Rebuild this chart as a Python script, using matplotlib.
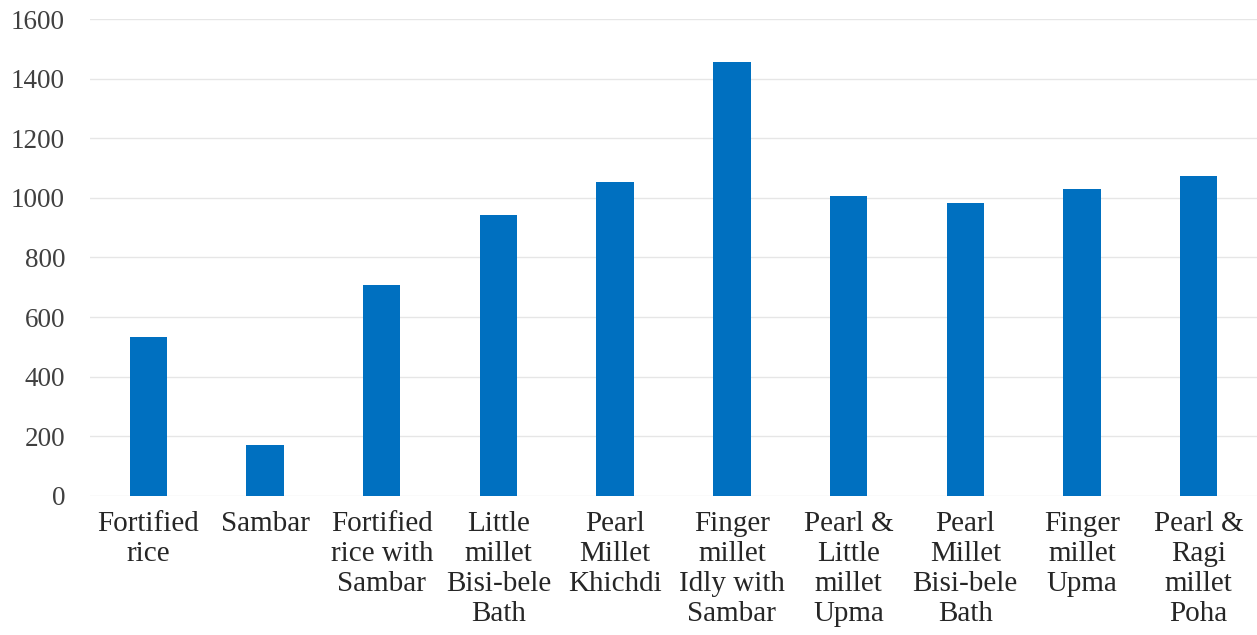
import numpy as np
import matplotlib
matplotlib.use('Agg')
import matplotlib.pyplot as plt

categories = ['Fortified\nrice', 'Sambar', 'Fortified\nrice with\nSambar',
              'Little\nmillet\nBisi-bele\nBath', 'Pearl\nMillet\nKhichdi',
              'Finger\nmillet\nIdly with\nSambar', 'Pearl &\nLittle\nmillet\nUpma',
              'Pearl\nMillet\nBisi-bele\nBath', 'Finger\nmillet\nUpma',
              'Pearl &\nRagi\nmillet\nPoha']
values = [533, 171, 707, 942, 1053, 1456, 1006, 982, 1031, 1074]
yticks = [0, 200, 400, 600, 800, 1000, 1200, 1400, 1600]

plt.rcParams['font.family'] = ['Liberation Serif', 'DejaVu Serif']

fig = plt.figure(figsize=(12.57, 6.35), dpi=100)
ax = fig.add_axes([0.0716, 0.219, 0.9284, 0.751])

x = np.arange(len(categories))
ax.bar(x, values, width=0.32, color='#0070C0', zorder=3)

ax.set_xlim(-0.5, len(categories) - 0.5)
ax.set_ylim(0, 1600)
ax.set_yticks(yticks)
ax.set_xticks(x)
ax.set_xticklabels(categories, fontsize=21, color='#262626', linespacing=1.2)
ax.tick_params(axis='y', labelsize=19.5, labelcolor='#404040', length=0, pad=18)
ax.tick_params(axis='x', length=0, pad=11)
ax.grid(axis='y', color='#e6e6e6', linewidth=1, zorder=0)
for s in ax.spines.values():
    s.set_visible(False)

fig.savefig('out.png', dpi=100)
